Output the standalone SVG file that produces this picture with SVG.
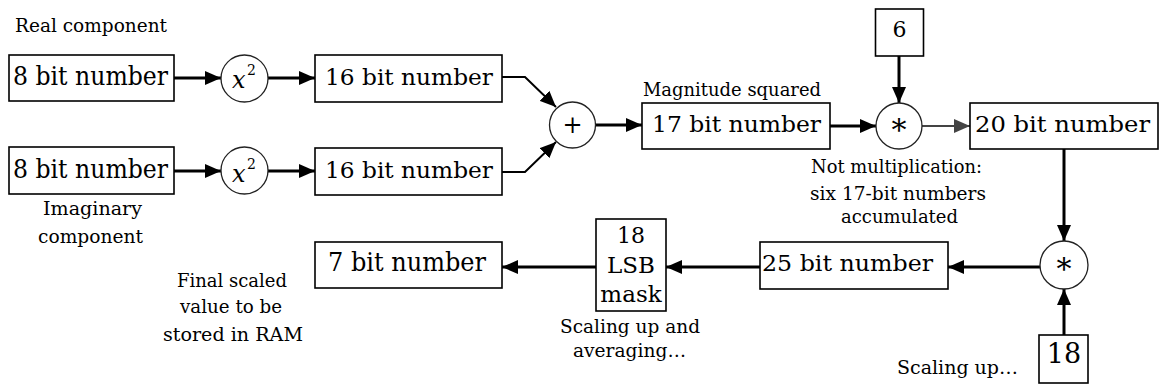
<svg xmlns="http://www.w3.org/2000/svg" width="1161" height="387" viewBox="0 0 1161 387">
  <style>
    .box { fill: #fff; stroke: #000; stroke-width: 1.6; }
    .op { fill: #fff; stroke: #222; stroke-width: 1.3; }
    .t { fill: #000; font-family: "DejaVu Serif", "Liberation Serif", serif; }
    .big { font-size: 26px; }
    .mid { font-size: 23px; }
    .lbl { font-size: 19px; }
    .star { font-size: 30px; }
    .wire { fill: none; stroke: #000; stroke-width: 3; }
    .wire-thin { fill: none; stroke: #000; stroke-width: 2; }
    .wire-grey { fill: none; stroke: #444; stroke-width: 2.2; }
  </style>
  <defs>
    <marker id="ah" markerUnits="userSpaceOnUse" markerWidth="16" markerHeight="14" refX="16" refY="7" orient="auto">
      <path d="M0,0 L16,7 L0,14 z" fill="#000"/>
    </marker>
    <marker id="ah-grey" markerUnits="userSpaceOnUse" markerWidth="16" markerHeight="14" refX="16" refY="7" orient="auto">
      <path d="M0,0 L16,7 L0,14 z" fill="#444"/>
    </marker>
  </defs>
  <rect width="1161" height="387" fill="#fff"/>

  <!-- free labels -->
  <g id="labels">
    <text class="t lbl" x="15" y="32" textLength="152" lengthAdjust="spacingAndGlyphs">Real component</text>
    <text class="t lbl" x="92.5" y="215" text-anchor="middle" textLength="99" lengthAdjust="spacingAndGlyphs">Imaginary</text>
    <text class="t lbl" x="90.5" y="243" text-anchor="middle" textLength="105" lengthAdjust="spacingAndGlyphs">component</text>
    <text class="t lbl" x="643" y="96" textLength="178" lengthAdjust="spacingAndGlyphs">Magnitude squared</text>
    <text class="t lbl" x="811" y="173" textLength="171" lengthAdjust="spacingAndGlyphs">Not multiplication:</text>
    <text class="t lbl" x="810" y="200" textLength="176" lengthAdjust="spacingAndGlyphs">six 17-bit numbers</text>
    <text class="t lbl" x="841" y="223" textLength="117" lengthAdjust="spacingAndGlyphs">accumulated</text>
    <text class="t lbl" x="177" y="287" textLength="110" lengthAdjust="spacingAndGlyphs">Final scaled</text>
    <text class="t lbl" x="180" y="313" textLength="102" lengthAdjust="spacingAndGlyphs">value to be</text>
    <text class="t lbl" x="163" y="341" textLength="140" lengthAdjust="spacingAndGlyphs">stored in RAM</text>
    <text class="t lbl" x="560" y="333" textLength="140" lengthAdjust="spacingAndGlyphs">Scaling up and</text>
    <text class="t lbl" x="573" y="357" textLength="113" lengthAdjust="spacingAndGlyphs">averaging…</text>
    <text class="t lbl" x="897" y="374" textLength="121" lengthAdjust="spacingAndGlyphs">Scaling up…</text>
  </g>

  <!-- connectors -->
  <g id="connectors">
    <line class="wire" x1="174" y1="78" x2="221" y2="78" marker-end="url(#ah)"/>
    <line class="wire" x1="268" y1="78" x2="315" y2="78" marker-end="url(#ah)"/>
    <line class="wire" x1="174" y1="171" x2="221" y2="171" marker-end="url(#ah)"/>
    <line class="wire" x1="268" y1="171" x2="315" y2="171" marker-end="url(#ah)"/>
    <polyline class="wire-thin" points="502,77 525,77 556,107" marker-end="url(#ah)"/>
    <polyline class="wire-thin" points="502,172 525,172 556,142" marker-end="url(#ah)"/>
    <line class="wire" x1="596" y1="125" x2="642" y2="125" marker-end="url(#ah)"/>
    <line class="wire" x1="830" y1="126" x2="876" y2="126" marker-end="url(#ah)"/>
    <line class="wire" x1="899" y1="56" x2="899" y2="103" marker-end="url(#ah)"/>
    <line class="wire-grey" x1="922" y1="126" x2="970" y2="126" marker-end="url(#ah-grey)"/>
    <line class="wire" x1="1064" y1="149" x2="1064" y2="241" marker-end="url(#ah)"/>
    <line class="wire" x1="1064" y1="335" x2="1064" y2="289" marker-end="url(#ah)"/>
    <line class="wire" x1="1040" y1="267" x2="948" y2="267" marker-end="url(#ah)"/>
    <line class="wire" x1="760" y1="267" x2="666" y2="267" marker-end="url(#ah)"/>
    <line class="wire" x1="596" y1="267" x2="502" y2="267" marker-end="url(#ah)"/>
  </g>

  <!-- nodes -->
  <g id="real-in">
    <rect class="box" x="9" y="55" width="165" height="46"/>
    <text class="t big" x="13" y="85" textLength="155" lengthAdjust="spacingAndGlyphs">8 bit number</text>
  </g>
  <g id="imag-in">
    <rect class="box" x="9" y="147" width="165" height="47"/>
    <text class="t big" x="13" y="178" textLength="155" lengthAdjust="spacingAndGlyphs">8 bit number</text>
  </g>
  <g id="square-real">
    <circle class="op" cx="244.5" cy="78.5" r="23.5"/>
    <text class="t" x="232" y="88" font-size="24" font-style="italic">x</text>
    <text class="t" x="247" y="75" font-size="14">2</text>
  </g>
  <g id="square-imag">
    <circle class="op" cx="244.5" cy="170.5" r="23.5"/>
    <text class="t" x="232" y="182" font-size="24" font-style="italic">x</text>
    <text class="t" x="247" y="169" font-size="14">2</text>
  </g>
  <g id="real-sq">
    <rect class="box" x="315" y="55" width="187" height="47"/>
    <text class="t mid" x="325" y="85" textLength="168" lengthAdjust="spacingAndGlyphs">16 bit number</text>
  </g>
  <g id="imag-sq">
    <rect class="box" x="315" y="148" width="187" height="47"/>
    <text class="t mid" x="325" y="178" textLength="168" lengthAdjust="spacingAndGlyphs">16 bit number</text>
  </g>
  <g id="adder">
    <circle class="op" cx="572.5" cy="125" r="23"/>
    <text class="t" x="572.5" y="133" font-size="24" text-anchor="middle">+</text>
  </g>
  <g id="mag-sq">
    <rect class="box" x="642" y="103" width="188" height="46"/>
    <text class="t mid" x="652" y="132" textLength="169" lengthAdjust="spacingAndGlyphs">17 bit number</text>
  </g>
  <g id="count-6">
    <rect class="box" x="875.5" y="9" width="48" height="47"/>
    <text class="t" x="899.5" y="37" font-size="22" text-anchor="middle">6</text>
  </g>
  <g id="accumulate">
    <circle class="op" cx="899" cy="126" r="23"/>
    <text class="t star" x="899" y="140" text-anchor="middle">*</text>
  </g>
  <g id="sum-20">
    <rect class="box" x="970" y="103" width="188" height="46"/>
    <text class="t mid" x="975" y="132" textLength="175" lengthAdjust="spacingAndGlyphs">20 bit number</text>
  </g>
  <g id="scale">
    <circle class="op" cx="1064" cy="265" r="24"/>
    <text class="t star" x="1064" y="279" text-anchor="middle">*</text>
  </g>
  <g id="factor-18">
    <rect class="box" x="1039" y="335" width="49" height="48"/>
    <text class="t" x="1064" y="363" font-size="27" text-anchor="middle">18</text>
  </g>
  <g id="scaled-25">
    <rect class="box" x="760" y="242" width="188" height="47"/>
    <text class="t mid" x="762" y="271" textLength="171" lengthAdjust="spacingAndGlyphs">25 bit number</text>
  </g>
  <g id="lsb-mask">
    <rect class="box" x="596" y="219" width="70" height="92"/>
    <text class="t" x="631" y="243" font-size="22" text-anchor="middle">18</text>
    <text class="t" x="631" y="273" font-size="23" text-anchor="middle">LSB</text>
    <text class="t" x="631" y="302" font-size="23" text-anchor="middle">mask</text>
  </g>
  <g id="result-7">
    <rect class="box" x="315" y="242" width="187" height="46"/>
    <text class="t big" x="328" y="271" textLength="158" lengthAdjust="spacingAndGlyphs">7 bit number</text>
  </g>
</svg>
